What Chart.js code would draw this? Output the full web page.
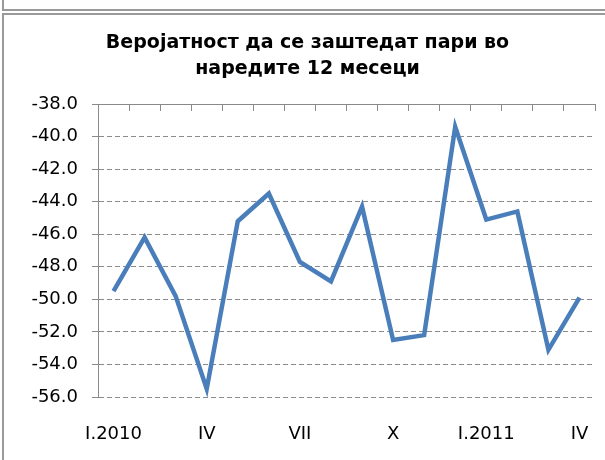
<!DOCTYPE html>
<html>
<head>
<meta charset="utf-8">
<script src="https://cdn.jsdelivr.net/npm/chart.js@4.4.1/dist/chart.umd.min.js"></script>
<style>
  html, body { margin: 0; padding: 0; background: #fff; }
  #wrap { position: relative; width: 605px; height: 460px; overflow: hidden; }
  #topbox { position: absolute; left: 2px; top: -2px; width: 640px; height: 11px; border-left: 2px solid #9a9a9a; border-bottom: 2px solid #9a9a9a; }
  #chartbox { position: absolute; left: 2px; top: 13px; width: 640px; height: 480px; border-left: 2px solid #9a9a9a; border-top: 2px solid #9a9a9a; }
  canvas { position: absolute; left: 0; top: 0; }
</style>
</head>
<body>
<div id="wrap">
  <div id="topbox"></div>
  <div id="chartbox"></div>
  <canvas id="c" width="605" height="460"></canvas>
</div>
<script>
// Categories (months Jan 2010 - Apr 2011)
const months = ['I.2010','II','III','IV','V','VI','VII','VIII','IX','X','XI','XII','I.2011','II','III','IV'];
// Series values
const savingsProbability = [-49.5, -46.2, -49.8, -55.5, -45.2, -43.5, -47.7, -48.9, -44.3, -52.5, -52.2, -39.4, -45.1, -44.6, -53.1, -49.9];
// Tick label settings
const labelEvery = 3;
const yMin = -56, yMax = -38, yStep = 2;
const titleLines = ['Веројатност да се заштедат пари во', 'наредите 12 месеци'];

const gridGray = '#8a8a8a';
const font = 'DejaVu Sans';

new Chart(document.getElementById('c'), {
  type: 'line',
  data: {
    labels: months,
    datasets: [{
      data: savingsProbability,
      borderColor: '#4a7ebb',
      backgroundColor: '#4a7ebb',
      borderWidth: 4.5,
      pointRadius: 0,
      tension: 0,
      fill: false
    }]
  },
  options: {
    responsive: false,
    animation: false,
    devicePixelRatio: 1,
    layout: { padding: { left: 20, right: 10, top: 0, bottom: 0 } },
    plugins: {
      legend: { display: false },
      tooltip: { enabled: false },
      title: {
        display: true,
        text: titleLines,
        color: '#000',
        font: { family: font, size: 19, weight: 'bold', lineHeight: '26px' },
        padding: { top: 30, bottom: 0 }
      }
    },
    scales: {
      x: {
        position: 'bottom',
        offset: true,
        grid: { display: false, drawTicks: false, tickLength: 0 },
        border: { display: false },
        ticks: {
          autoSkip: false,
          maxRotation: 0,
          padding: 27,
          color: '#000',
          font: { family: font, size: 18 },
          callback: (v, i) => (i % labelEvery === 0 ? months[i] : '')
        },
        afterFit: s => { s.height = 63; s.paddingLeft = 0; s.paddingRight = 0; }
      },
      x2: {
        position: 'top',
        type: 'category',
        labels: months,
        offset: true,
        grid: { display: true, offset: true, drawOnChartArea: false, drawTicks: true, tickLength: -7, color: gridGray, tickColor: gridGray, lineWidth: 1 },
        border: { display: true, color: gridGray, width: 1 },
        ticks: { display: false },
        afterFit: s => { s.height = 22; s.paddingLeft = 0; s.paddingRight = 0; }
      },
      y: {
        min: yMin,
        max: yMax,
        grid: { color: gridGray, tickColor: gridGray, lineWidth: 1, tickLength: 6, drawTicks: true },
        border: { display: true, color: gridGray, width: 1, dash: [5, 3] },
        ticks: {
          stepSize: yStep,
          padding: 14,
          color: '#000',
          font: { family: font, size: 18 },
          callback: v => Number(v).toFixed(1)
        },
        afterFit: s => { s.width = 78; }
      }
    }
  }
});
</script>
</body>
</html>
